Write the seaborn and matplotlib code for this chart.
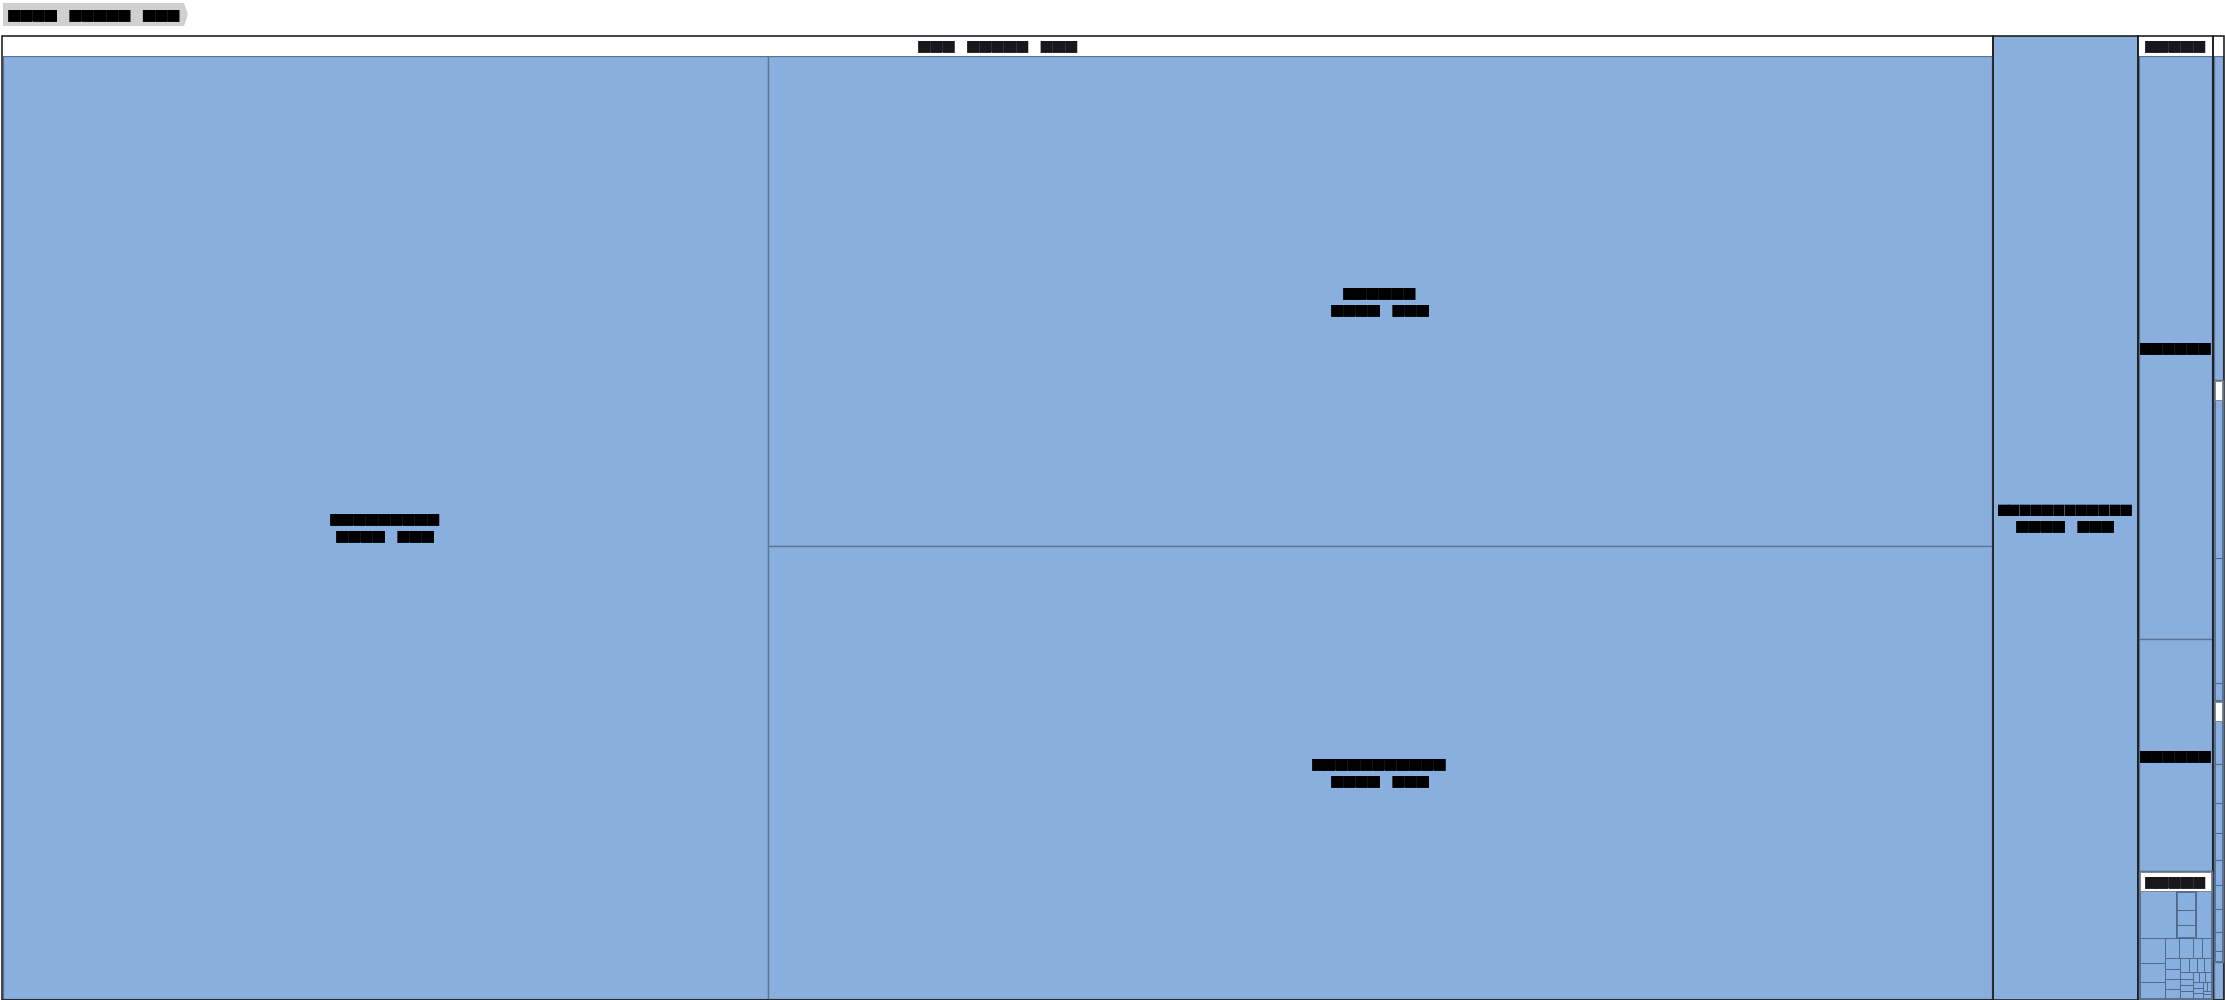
import matplotlib
matplotlib.use("Agg")
import matplotlib.pyplot as plt
import seaborn as sns
from matplotlib.patches import Rectangle, Polygon

sns.set_theme(style="white")
plt.rcParams["font.family"] = ["DejaVu Sans Mono", "DejaVu Sans"]

# ---------------- data (values read from the rectangle areas) ----------------
ROOT_NAME = "■■■■ ■■■■■ ■■■"
VALUE_TEXT = "■■■■ ■■■"

TOP_NAMES = ["■■■ ■■■■■ ■■■", "■■■■■■■■■■■■", "■■■■■", "■■■■■"]

N1_NAMES = ["■■■■■■■■■", "■■■■■■", "■■■■■■■■■■■"]
N1_VALUES = [7388, 6156, 5669]

N2_VALUE = 1399

N3_LEAF_NAMES = ["■■■■■■", "■■■■■■"]
N3_LEAF_VALUES = [448, 178]
N3_GROUP_NAME = "■■■■■"

F_LEAF_VALUES = [22.3, 9.4, 7.8, 6.4, 4.9, 3.5, 3.5,
                 2.5, 2.2, 2.1, 2.0, 1.8, 1.7, 1.6, 1.4, 1.3, 1.2, 1.2,
                 1.1, 1.0, 1.0, 0.9, 0.8, 0.8, 0.7, 0.65, 0.6, 0.5, 0.45, 0.4, 0.33]
F_SUB_VALUES = [4.7, 3.9, 3.1]

N4_LEAF_VALUES = [36.5, 4.1]
N4_B_VALUES = [19.0, 15.0, 2.1]
N4_C_VALUES = [5.2, 4.8, 3.6, 3.3, 3.1, 2.9, 2.8, 2.4, 1.2]

FILL = "#88afdd"
HEADER_H = 20
SQUARE_RATIO = 0.5 * (1 + 5 ** 0.5)


# ---------------- tree ----------------
def leaf(name, v):
    return {"name": name, "value": v}


def group(name, kids):
    return {"name": name, "children": kids, "value": sum(k["value"] for k in kids)}


n1 = group(TOP_NAMES[0], [leaf(n, v) for n, v in zip(N1_NAMES, N1_VALUES)])
n2 = leaf(TOP_NAMES[1], N2_VALUE)
f_kids = [leaf("■■■", v) for v in F_LEAF_VALUES] + [group("■■■", [leaf("■■", v) for v in F_SUB_VALUES])]
f_node = group(N3_GROUP_NAME, f_kids)
n3 = group(TOP_NAMES[2], [leaf(n, v) for n, v in zip(N3_LEAF_NAMES, N3_LEAF_VALUES)] + [f_node])
n4_b = group("■■■", [leaf("■■", v) for v in N4_B_VALUES])
n4_c = group("■■■", [leaf("■■", v) for v in N4_C_VALUES])
n4 = group(TOP_NAMES[3], [leaf("■■■", N4_LEAF_VALUES[0]), n4_b, n4_c, leaf("■■", N4_LEAF_VALUES[1])])
root = group(ROOT_NAME, [n1, n2, n3, n4])


# ---------------- squarified layout ----------------
def worst(row, row_area, fixed):
    amax = max(a for _, a in row)
    amin = min(a for _, a in row)
    sq = row_area * row_area
    f = fixed * fixed * SQUARE_RATIO
    return max(f * amax / sq, sq / (f * amin)) if sq else float("inf")


def position(row, row_area, fixed, rect, flush, out):
    horiz = fixed == rect[2]
    start = rect[0] if horiz else rect[1]
    length = rect[2] if horiz else rect[3]
    other_max = rect[3] if horiz else rect[2]
    other = row_area / fixed if fixed else 0
    if flush or other > other_max:
        other = other_max
    last = start
    for k, (node, a) in enumerate(row):
        step = a / other if other else 0
        remain = start + length - last
        mod = remain if (k == len(row) - 1 or remain < step) else step
        if horiz:
            out.append((node, (last, rect[1], mod, other)))
        else:
            out.append((node, (rect[0], last, other, mod)))
        last += mod
    if horiz:
        rect[1] += other
        rect[3] -= other
    else:
        rect[0] += other
        rect[2] -= other


def squarify(items, x, y, w, h):
    rect = [x, y, w, h]
    out = []
    row, row_area, best = [], 0.0, float("inf")
    fixed = min(w, h)
    i = 0
    while i < len(items):
        row.append(items[i])
        row_area += items[i][1]
        score = worst(row, row_area, fixed)
        if score <= best:
            i += 1
            best = score
        else:
            row_area -= row.pop()[1]
            position(row, row_area, fixed, rect, False, out)
            fixed = min(rect[2], rect[3])
            row, row_area, best = [], 0.0, float("inf")
    if row:
        position(row, row_area, fixed, rect, True, out)
    return out


def layout(node, x, y, w, h, depth):
    node["rect"] = (x, y, w, h)
    node["depth"] = depth
    kids = node.get("children")
    if not kids:
        return
    tot = sum(k["value"] for k in kids)
    if depth == 0:
        cx = x
        for k in sorted(kids, key=lambda n: -n["value"]):
            kw = w * k["value"] / tot
            layout(k, cx, y, kw, h, 1)
            cx += kw
        return
    bw = 1.0
    hdr = HEADER_H if depth in (1, 2) else bw
    node["header"] = depth in (1, 2)
    ix, iy, iw, ih = x + bw, y + hdr, w - 2 * bw, h - hdr - bw
    items = [(k, k["value"] / tot * iw * ih) for k in sorted(kids, key=lambda n: -n["value"])]
    for k, r in squarify(items, ix, iy, iw, ih):
        layout(k, *r, depth + 1)


layout(root, 1.5, 35.5, 2222.5, 964.0, 0)

# ---------------- drawing ----------------
fig = plt.figure(figsize=(22.25, 10), dpi=100)
ax = fig.add_axes([0, 0, 1, 1])
ax.set_xlim(0, 2225)
ax.set_ylim(1000, 0)
ax.axis("off")

PX = 0.72  # points per pixel
PITCH = 12.3
FS = PITCH / 0.602 * PX


def text_w(s):
    return len(s) * PITCH


def edge_style(depth):
    if depth == 1:
        return "#1c1c1c", 1.6
    if depth == 2:
        return "#5d7190", 1.3
    return "#4f6787", 0.9


def label(x, y, s, color="black", avail=None, z=60):
    fs = FS
    if avail is not None and text_w(s) > avail:
        fs = FS * avail / text_w(s)
    ax.text(x, y, s, ha="center", va="center", fontsize=fs, color=color, zorder=z)


def draw(node):
    x, y, w, h = node["rect"]
    d = node["depth"]
    kids = node.get("children")
    ec, lw = edge_style(d)
    if kids:
        ax.add_patch(Rectangle((x, y), w, h, fc="white", ec="none", zorder=d))
        for k in kids:
            draw(k)
        ax.add_patch(Rectangle((x, y), w, h, fc="none", ec=ec, lw=lw * PX, zorder=d + 20))
        if node.get("header"):
            ax.add_patch(Rectangle((x + 1, y + 1), w - 2, HEADER_H - 1, fc="white",
                                   ec="#888888" if d == 2 else "none", lw=1.0 * PX, zorder=d + 20))
            if w >= text_w(node["name"]) * 0.9:
                label(x + w / 2, y + HEADER_H / 2 + 0.5, node["name"], "#17171c", avail=w - 2)
    else:
        ax.add_patch(Rectangle((x, y), w, h, fc=FILL, ec=ec, lw=lw * PX, zorder=d + 10))
        if d > 2:
            return
        cx, cy = x + w / 2, y + h / 2
        show_name = w >= text_w(node["name"]) * 0.9 and h >= 18
        show_val = w >= text_w(VALUE_TEXT) + 4 and h >= 40
        if show_name and show_val:
            label(cx, cy - 8.5, node["name"], avail=w - 10)
            label(cx, cy + 8.5, VALUE_TEXT, avail=w - 10)
        elif show_name:
            label(cx, cy, node["name"], avail=w - 1)


for top in root["children"]:
    draw(top)

# breadcrumb
ax.add_patch(Polygon([(3, 3), (184, 3), (188, 14.5), (184, 26), (3, 26)], closed=True,
                     fc="#d0d0d0", ec="none", zorder=70))
label(94, 15, ROOT_NAME, z=75)

fig.savefig("out.png", dpi=100, facecolor="white")
